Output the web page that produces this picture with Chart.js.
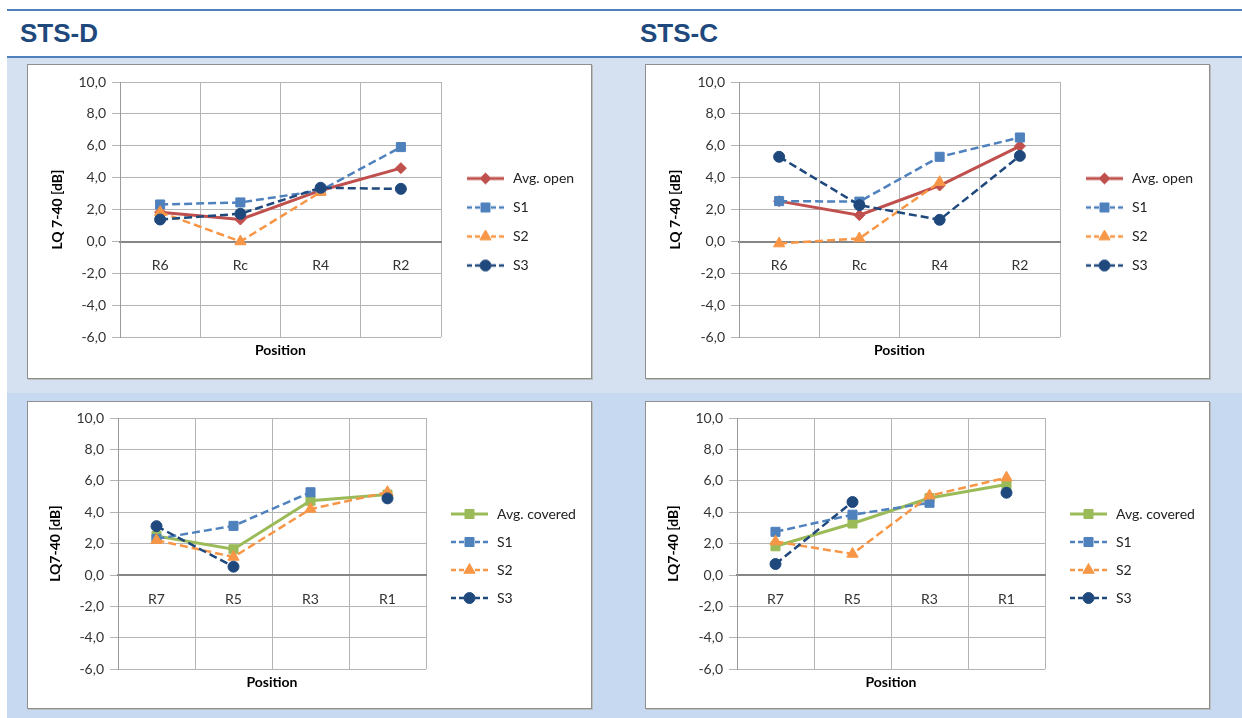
<!doctype html>
<html lang="en">
<head>
<meta charset="utf-8">
<title>STS-D / STS-C  LQ 7-40</title>
<script src="https://cdn.jsdelivr.net/npm/chart.js@4/dist/chart.umd.min.js"></script>
<style>
  body { margin: 0; width: 1242px; height: 718px; position: relative; overflow: hidden; background: #fff; }
  .rule { position: absolute; left: 7px; right: 0; height: 2px; background: #4f81bd; }
  .head { position: absolute; top: 20px; font: bold 26px/26px "Liberation Sans", Arial, sans-serif; color: #1f497d; }
  .band { position: absolute; left: 7px; right: 0; }
  .panel { position: absolute; background: #fff; border: 1px solid #8f8f8f; box-shadow: 1px 1px 0 #bcbcbc; box-sizing: border-box; }
</style>
</head>
<body>
<div class="rule" style="top:9px"></div>
<div class="head" style="left:20px">STS-D</div>
<div class="head" style="left:640px">STS-C</div>
<div class="rule" style="top:56px"></div>
<div style="position:absolute;left:627px;top:58px;width:1px;height:2px;background:#4f81bd"></div>
<div class="band" style="top:58px;height:335px;background:#d5e0f0"></div>
<div class="band" style="top:393px;height:325px;background:#c6d9f1"></div>

<div class="panel" style="left:27px;top:64px;width:565px;height:315px"><canvas id="dOpen"></canvas></div>
<div class="panel" style="left:645px;top:64px;width:565px;height:315px"><canvas id="cOpen"></canvas></div>
<div class="panel" style="left:27px;top:401px;width:565px;height:308px"><canvas id="dCov"></canvas></div>
<div class="panel" style="left:645px;top:401px;width:565px;height:308px"><canvas id="cCov"></canvas></div>

<script>
// positions along the measurement line
const posOpen = ['R6', 'Rc', 'R4', 'R2'];
const posCovered = ['R7', 'R5', 'R3', 'R1'];

// STS-D, open positions
const dOpenAvg = [1.84, 1.38, 3.2, 4.6];
const dOpenS1 = [2.32, 2.45, 3.2, 5.92];
const dOpenS2 = [1.84, 0.0, 3.1, null];
const dOpenS3 = [1.38, 1.74, 3.37, 3.3];

// STS-C, open positions
const cOpenAvg = [2.53, 1.65, 3.51, 5.98];
const cOpenS1 = [2.53, 2.5, 5.31, 6.52];
const cOpenS2 = [-0.13, 0.19, 3.72, null];
const cOpenS3 = [5.31, 2.28, 1.36, 5.37];

// STS-D, covered positions
const dCovAvg = [2.49, 1.64, 4.73, 5.12];
const dCovS1 = [2.3, 3.13, 5.27, null];
const dCovS2 = [2.22, 1.15, 4.2, 5.27];
const dCovS3 = [3.11, 0.53, null, 4.88];

// STS-C, covered positions
const cCovAvg = [1.83, 3.28, 4.9, 5.76];
const cCovS1 = [2.75, 3.84, 4.6, null];
const cCovS2 = [2.13, 1.34, 5.05, 6.2];
const cCovS3 = [0.7, 4.65, null, 5.24];

const yTicksMin = -6, yTicksMax = 10, yStep = 2;

const RED = '#c0504d', BLUE = '#4f81bd', ORANGE = '#f79646', NAVY = '#1f497d', GREEN = '#9bbb59';
const GRID = '#b4b4b4';
const FONT = 'Lato, "Open Sans", sans-serif';

const MARKERS = {
  rectRot: 5.5,
  rect: 6.4,
  triangle: 6.5,
  circle: 5.5
};

function legendIcon(color, dashed, pointStyle) {
  const c = document.createElement('canvas');
  c.width = 50; c.height = 14;
  const g = c.getContext('2d');
  g.strokeStyle = color;
  g.fillStyle = color;
  g.lineWidth = dashed ? 2.5 : 3;
  g.setLineDash(dashed ? [5, 3] : []);
  g.beginPath();
  g.moveTo(11, 7);
  g.lineTo(48, 7);
  g.stroke();
  g.setLineDash([]);
  g.lineWidth = 1;
  Chart.helpers.drawPoint(g, {pointStyle, radius: MARKERS[pointStyle], rotation: 0, borderWidth: 1}, 29.5, 7);
  return c;
}

// keep the legend at a fixed width so the plot area lands where it should
const pinLegend = {
  id: 'pinLegend',
  afterInit(chart, args, opts) {
    const lg = chart.legend;
    const fit = lg.fit;
    lg.fit = function () {
      fit.call(this);
      this.width = opts.width;
    };
  }
};

function series(label, data, color, dashed, pointStyle) {
  return {label, data, color, dashed, pointStyle};
}

function makeChart(id, labels, list, p) {
  const icons = list.map(s => legendIcon(s.color, s.dashed, s.pointStyle));
  const datasets = list.map((s, i) => ({
    label: s.label,
    data: s.data,
    xAxisID: 'x',
    yAxisID: 'y',
    order: list.length - i,
    borderColor: s.color,
    backgroundColor: s.color,
    borderWidth: s.dashed ? 2.5 : 3,
    borderDash: s.dashed ? [8, 4] : [],
    pointStyle: s.pointStyle,
    pointRadius: MARKERS[s.pointStyle],
    pointBackgroundColor: s.color,
    pointBorderColor: s.color,
    pointBorderWidth: 1,
    tension: 0,
    spanGaps: false,
    fill: false
  }));

  return new Chart(document.getElementById(id), {
    type: 'line',
    data: {labels, datasets},
    plugins: [pinLegend],
    options: {
      responsive: true,
      maintainAspectRatio: false,
      animation: false,
      layout: {padding: {left: p.padLeft, top: p.padTop, bottom: p.padBottom, right: 0}},
      scales: {
        x: {
          type: 'category',
          axis: 'x',
          position: {y: 0},
          offset: true,
          grid: {color: GRID, offset: true, tickLength: 5},
          border: {color: '#868686', width: 2},
          ticks: {color: '#333', font: {family: FONT, size: 14}, padding: 11, maxRotation: 0},
          afterFit(s) { s.height = 0; }
        },
        x2: {
          type: 'category',
          axis: 'x',
          position: 'bottom',
          offset: true,
          grid: {display: false, drawTicks: false},
          border: {display: false},
          ticks: {display: false},
          title: {display: true, text: 'Position', color: '#000',
                  font: {family: FONT, size: 14, weight: 'bold'}, padding: {top: 5, bottom: 3}}
        },
        y: {
          min: yTicksMin,
          max: yTicksMax,
          grid: {color: GRID, tickLength: 8},
          border: {color: '#9a9a9a'},
          ticks: {
            stepSize: yStep,
            padding: 6,
            color: '#333',
            font: {family: FONT, size: 14},
            callback: v => v.toFixed(1).replace('.', ',')
          },
          title: {display: true, text: p.yTitle, color: '#000',
                  font: {family: FONT, size: 14, weight: 'bold'}},
          afterFit(s) { s.width = p.yWidth; }
        }
      },
      plugins: {
        tooltip: {enabled: false},
        pinLegend: {width: p.legendWidth},
        legend: {
          position: 'right',
          align: 'center',
          labels: {
            usePointStyle: true,
            pointStyleWidth: 50,
            padding: p.legendPad,
            color: '#222',
            font: {family: FONT, size: 14},
            sort: (a, b) => a.datasetIndex - b.datasetIndex,
            generateLabels(chart) {
              const items = Chart.defaults.plugins.legend.labels.generateLabels(chart);
              items.forEach(it => { it.pointStyle = icons[it.datasetIndex]; });
              return items;
            }
          }
        }
      }
    }
  });
}

makeChart('dOpen', posOpen, [
  series('Avg. open', dOpenAvg, RED, false, 'rectRot'),
  series('S1', dOpenS1, BLUE, true, 'rect'),
  series('S2', dOpenS2, ORANGE, true, 'triangle'),
  series('S3', dOpenS3, NAVY, true, 'circle')
], {yTitle: 'LQ 7-40 [dB]', padLeft: 17, yWidth: 75, padTop: 17, padBottom: 16, legendWidth: 150, legendPad: 15});

makeChart('cOpen', posOpen, [
  series('Avg. open', cOpenAvg, RED, false, 'rectRot'),
  series('S1', cOpenS1, BLUE, true, 'rect'),
  series('S2', cOpenS2, ORANGE, true, 'triangle'),
  series('S3', cOpenS3, NAVY, true, 'circle')
], {yTitle: 'LQ 7-40 [dB]', padLeft: 17, yWidth: 76, padTop: 17, padBottom: 16, legendWidth: 149, legendPad: 15});

makeChart('dCov', posCovered, [
  series('Avg. covered', dCovAvg, GREEN, false, 'rect'),
  series('S1', dCovS1, BLUE, true, 'rect'),
  series('S2', dCovS2, ORANGE, true, 'triangle'),
  series('S3', dCovS3, NAVY, true, 'circle')
], {yTitle: 'LQ7-40 [dB]', padLeft: 15, yWidth: 75, padTop: 16, padBottom: 14, legendWidth: 165, legendPad: 14});

makeChart('cCov', posCovered, [
  series('Avg. covered', cCovAvg, GREEN, false, 'rect'),
  series('S1', cCovS1, BLUE, true, 'rect'),
  series('S2', cCovS2, ORANGE, true, 'triangle'),
  series('S3', cCovS3, NAVY, true, 'circle')
], {yTitle: 'LQ7-40 [dB]', padLeft: 15, yWidth: 76, padTop: 16, padBottom: 14, legendWidth: 164, legendPad: 14});
</script>
</body>
</html>
